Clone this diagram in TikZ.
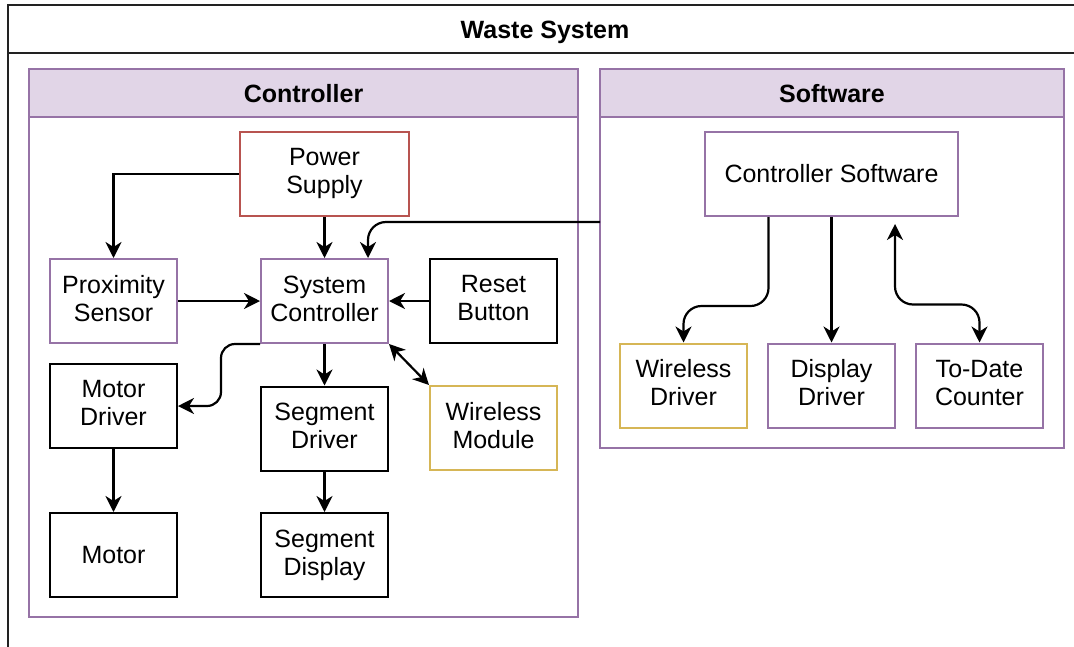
\documentclass[tikz,border=0pt]{standalone}
\usepackage{fontspec}
\setmainfont{Liberation Sans}
\usetikzlibrary{arrows.meta,calc}
\definecolor{purpleline}{HTML}{9673A6}
\definecolor{purplefill}{HTML}{E1D5E7}
\definecolor{redline}{HTML}{B85450}
\definecolor{goldline}{HTML}{D6B656}
\definecolor{frameline}{HTML}{222222}
% line strut with the ascent and descent of the 25pt sans face
\newcommand{\linestrut}{\rule[-5.3pt]{0pt}{27.9pt}}
\tikzset{
  boxtext/.style={align=center, inner sep=0pt, font=\fontsize{25}{28}\selectfont,
    execute at begin node=\linestrut, execute at end node=\linestrut},
  block/.style={boxtext, draw, line width=2pt, fill=white, minimum width=127pt, minimum height=84pt},
  purpleblock/.style={block, draw=purpleline},
  redblock/.style={block, draw=redline},
  goldblock/.style={block, draw=goldline},
  blackblock/.style={block, draw=black},
  arr/.style={line width=2.2pt, -{Stealth[length=16pt,width=16pt,inset=5pt]}},
  biarr/.style={line width=2.2pt, {Stealth[length=16pt,width=16pt,inset=5pt]}-{Stealth[length=16pt,width=16pt,inset=5pt]}},
  container/.style={draw=purpleline, line width=2pt},
  header/.style={draw=purpleline, line width=2pt, fill=purplefill},
  titletext/.style={boxtext, font=\fontsize{25}{28}\selectfont\bfseries}
}
\begin{document}
\begin{tikzpicture}[x=1pt,y=-1pt]
  \useasboundingbox (0,0) rectangle (1074,646);
  \clip (0,0) rectangle (1074,646);

  % outer frame with its title band
  \draw[frameline, line width=2pt] (8,5) rectangle (1100,700);
  \draw[frameline, line width=2pt] (8,53) -- (1100,53);
  \node[titletext] (wastetitle) at (545,29.5) {Waste System};

  % Controller container
  \draw[container, fill=white] (29,69) rectangle (578,617);
  \draw[header] (29,69) rectangle (578,117);
  \node[titletext] (ctrltitle) at (303.5,93.5) {Controller};

  % Software container
  \draw[container, fill=white] (600,69) rectangle (1064,448);
  \draw[header] (600,69) rectangle (1064,117);
  \node[titletext] (swtitle) at (832,93.5) {Software};
  \coordinate (swin) at (600,222);

  % Controller blocks
  \node[redblock, minimum width=169pt] (ps) at (324.5,174) {Power\\Supply};
  \node[purpleblock] (prox) at (113.5,301) {Proximity\\Sensor};
  \node[purpleblock] (sc) at (324.5,301) {System\\Controller};
  \node[blackblock] (rb) at (493.5,301) {Reset\\Button};
  \node[blackblock] (md) at (113.5,406) {Motor\\Driver};
  \node[blackblock] (sd) at (324.5,428.5) {Segment\\Driver};
  \node[goldblock] (wm) at (493.5,428) {Wireless\\Module};
  \node[blackblock] (motor) at (113.5,555) {Motor};
  \node[blackblock] (sdisp) at (324.5,555) {Segment\\Display};

  % Software blocks
  \node[purpleblock, minimum width=253pt] (cs) at (831.5,174) {Controller Software};
  \node[goldblock] (wd) at (683.5,385.5) {Wireless\\Driver};
  \node[purpleblock] (dd) at (831.5,385.5) {Display\\Driver};
  \node[purpleblock] (tdc) at (979.5,385.5) {To-Date\\Counter};
  \coordinate (csin) at (895,224);

  % Controller connectors
  \draw[arr] (ps.west) -| (prox.north);
  \draw[arr] (ps.south) -- (sc.north);
  \draw[arr] (prox.east) -- (sc.west);
  \draw[arr] (rb.west) -- (sc.east);
  \draw[biarr] (sc.south east) -- (wm.north west);
  \draw[arr] (sc.south) -- (sd.north);
  \draw[arr] (sd.south) -- (sdisp.north);
  \draw[arr] (md.south) -- (motor.north);
  \draw[arr, rounded corners=14pt] (sc.south west) -| ($(md.east)+(43,0)$) -- (md.east);
  \draw[arr, rounded corners=18pt] (swin) -| ($(sc.north east)+(-21,0)$);

  % Software connectors
  \draw[arr, rounded corners=18pt] ($(cs.south)+(-63,0)$) -- ++(0,89) -| (wd.north);
  \draw[arr] (cs.south) -- (dd.north);
  \draw[biarr, rounded corners=18pt] (tdc.north) -- ++(0,-38) -| (csin);
\end{tikzpicture}
\end{document}
